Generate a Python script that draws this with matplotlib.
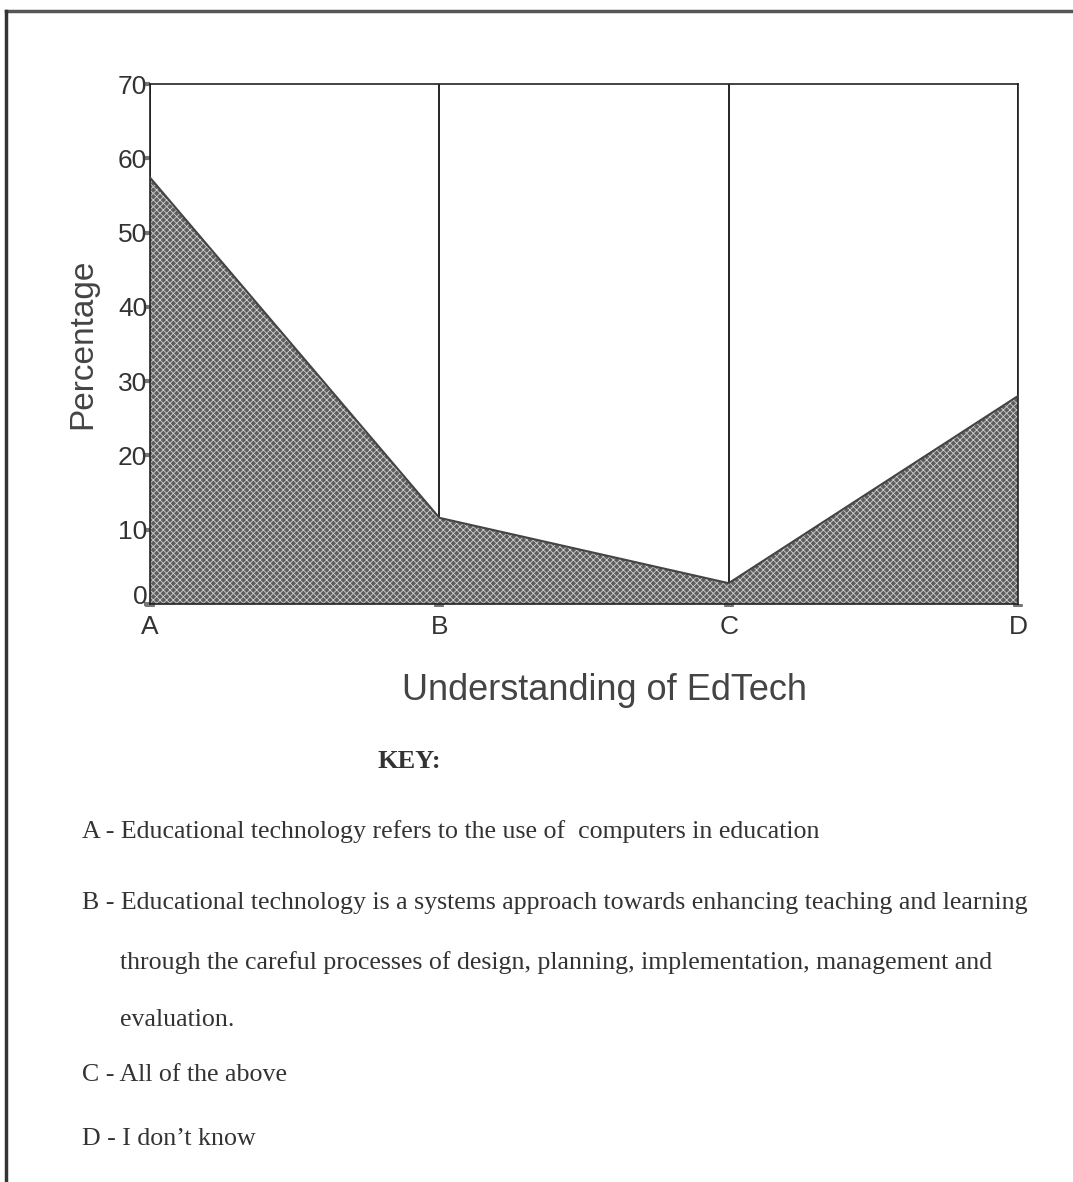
import numpy as np
import matplotlib
matplotlib.use("Agg")
import matplotlib.pyplot as plt
from matplotlib.lines import Line2D
from matplotlib.transforms import ScaledTranslation

# data
categories = ["A", "B", "C", "D"]
percentages = [57.4, 11.6, 2.8, 28.0]
y_ticks = [0, 10, 20, 30, 40, 50, 60, 70]

key_lines = [
    ("A - Educational technology refers to the use of  computers in education", 0.0),
    ("B - Educational technology is a systems approach towards enhancing teaching and learning", 0.0),
    ("through the careful processes of design, planning, implementation, management and", 1.0),
    ("evaluation.", 1.0),
    ("C - All of the above", 0.0),
    ("D - I don\u2019t know", 0.0),
]
key_y_px = [832, 903, 963, 1020, 1075, 1139]

W, H = 1073, 1182
fig = plt.figure(figsize=(W / 100, H / 100), dpi=100)
fig.patch.set_facecolor("white")

ax = fig.add_axes([150 / W, 1 - 604 / H, 868 / W, 520 / H])
x = np.arange(len(categories))

plt.rcParams["hatch.color"] = "#cfcfcf"
plt.rcParams["hatch.linewidth"] = 0.6

# vertical category lines (hidden under the fill)
for xi in x:
    ax.plot([xi, xi], [0, 70], color="black", lw=1.2, zorder=1)

ax.fill_between(x, percentages, 0, facecolor="#5e5e5e", edgecolor="#cfcfcf",
                hatch="xxxxx", linewidth=0, zorder=2)
ax.plot(x, percentages, color="#444444", lw=1.5, zorder=3)

ax.set_xlim(0, 3)
ax.set_ylim(0, 70)
for s in ax.spines.values():
    s.set_color("#222222")
    s.set_linewidth(1.2)

ax.set_yticks(y_ticks)
ax.set_xticks(x)
ax.set_xticklabels(categories)
ax.tick_params(axis="y", direction="out", length=4, width=3, color="#777777",
               labelsize=19, labelcolor="#333333", pad=-2)
ax.tick_params(axis="x", direction="out", length=2, width=7, color="#777777",
               labelsize=19, labelcolor="#333333", pad=6)
for lbl in ax.get_yticklabels() + ax.get_xticklabels():
    lbl.set_family("Liberation Sans")
# the "0" sits a little above its tick in the original
zero = ax.get_yticklabels()[0]
zero.set_transform(zero.get_transform() + ScaledTranslation(0, 10 / 100, fig.dpi_scale_trans))

ax.set_ylabel("Percentage", fontsize=24, color="#444444", family="Liberation Sans", labelpad=14)

fig.text(604 / W, 1 - 690 / H, "Understanding of EdTech", fontsize=26, color="#444444",
         family="Liberation Sans", ha="center", va="center")
fig.text(378 / W, 1 - 762 / H, "KEY:", fontsize=19, fontweight="bold", color="#333333",
         family="Liberation Serif", ha="left", va="center")

for (txt, indent), ypx in zip(key_lines, key_y_px):
    xpx = 82 + indent * 38
    fig.text(xpx / W, 1 - ypx / H, txt, fontsize=18.6, color="#333333",
             family="Liberation Serif", ha="left", va="center")

# page frame
fig.add_artist(Line2D([6 / W, 1.0], [1 - 11 / H, 1 - 11 / H], color="#555555", lw=2.5))
fig.add_artist(Line2D([6 / W, 6 / W], [0, 1 - 11 / H], color="#333333", lw=2.5))

fig.savefig("out.png", dpi=100)
